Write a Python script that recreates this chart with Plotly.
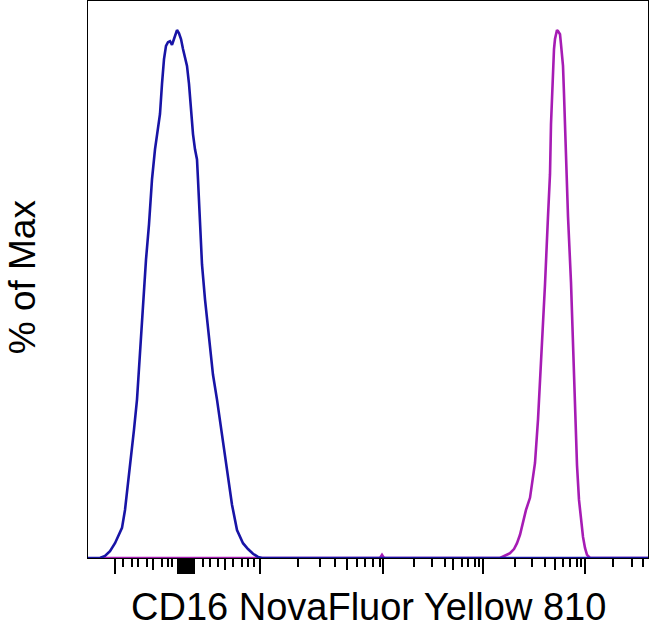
import plotly.graph_objects as go

# Display channels (biexponential display scale), 0..560 across the plot
blue_x = [0, 12, 17, 22, 27, 31, 34, 37, 40, 43, 46, 49, 52, 55, 58, 61, 64, 67, 70, 72,
          74, 76, 78, 80, 82, 84, 86, 88, 89, 91, 93, 95, 97, 99, 101, 103, 105, 107, 109,
          110, 112, 114, 117, 121, 125, 129, 134, 139, 144, 149, 155, 160, 165, 170, 174, 560]
blue_y = [0, 0, 0.4, 1.3, 2.8, 4.4, 5.7, 9.1, 13.9, 18.6, 24.3, 30.0, 39.5, 49.0, 56.5, 63.2,
          71.7, 77.4, 81.2, 84.1, 89.8, 94.5, 97.0, 97.7, 97.9, 97.2, 98.3, 99.6, 100, 99.4,
          98.3, 96.4, 94.9, 93.2, 89.8, 85.0, 80.3, 77.4, 75.5, 71.7, 62.2, 55.6, 49.0, 41.4,
          34.7, 30.0, 23.3, 16.7, 10.1, 5.3, 2.8, 1.7, 0.8, 0.2, 0, 0]

magenta_x = [12, 292, 294, 296, 412, 417, 422, 426, 429, 432, 435, 438, 442, 445, 447, 450,
             454, 457, 460, 462, 463, 464, 465, 466, 467, 468, 469, 470, 472, 473, 475, 476,
             477, 478, 480, 483, 485, 487, 489, 491, 493, 495, 497, 499, 502, 560]
magenta_y = [0, 0, 0.6, 0, 0, 0.4, 0.9, 1.7, 2.8, 4.4, 6.8, 9.1, 11.4, 15.2, 18.0, 26.2,
             39.5, 51.8, 64.7, 72.7, 82.2, 87.9, 93.2, 96.4, 98.3, 99.6, 100, 99.8, 99.2,
             97.3, 93.2, 87.9, 82.2, 74.6, 64.7, 52.2, 39.5, 26.8, 17.6, 11.0, 6.8, 4.0,
             1.9, 0.6, 0, 0]

# tick positions on the display scale (-10^3, 0, 10^3 ... 10^6)
major_ticks = [27, 98, 172, 295, 395, 497]
zero_ticks = [90, 91.5, 93, 94, 96, 97, 99, 100, 102, 103, 104.5, 106]
mid_ticks = [65, 137, 259, 365, 467]
minor_ticks = [35, 44, 50, 59, 74, 80, 84,
               115, 122, 130, 145, 154, 160, 166,
               210, 232, 247, 269, 277, 285, 292,
               326, 344, 357, 374, 380, 387, 391,
               427, 444, 457, 475, 482, 489, 493,
               525, 544, 555]

x_title = 'CD16 NovaFluor Yellow 810'
y_title = '% of Max'

x_range = [0, 560]
y_range = [0, 105.5]

fig = go.Figure()

# magenta first, blue drawn on top
fig.add_trace(go.Scatter(x=magenta_x, y=magenta_y, mode='lines',
                         line=dict(color='#a61cb4', width=2.6), showlegend=False))
fig.add_trace(go.Scatter(x=blue_x, y=blue_y, mode='lines',
                         line=dict(color='#1814a6', width=2.6), showlegend=False))
# empty trace so the overlay axis with the medium ticks gets drawn
fig.add_trace(go.Scatter(x=[], y=[], xaxis='x2', showlegend=False))

fig.update_layout(
    width=650, height=632,
    margin=dict(l=88, r=2, t=1, b=74),
    paper_bgcolor='white', plot_bgcolor='white',
    font=dict(family='Liberation Sans, Arial', color='black'),
    xaxis=dict(range=x_range, showgrid=False, zeroline=False, automargin=False,
               showline=True, linecolor='black', linewidth=1, mirror=True,
               tickmode='array', tickvals=major_ticks + zero_ticks,
               ticks='outside', ticklen=15, tickwidth=2, tickcolor='black',
               showticklabels=False,
               minor=dict(tickmode='array', tickvals=minor_ticks, ticks='outside',
                          ticklen=8, tickwidth=2, tickcolor='black', showgrid=False)),
    xaxis2=dict(range=x_range, overlaying='x', anchor='y', side='bottom',
                automargin=False, showgrid=False, zeroline=False, showline=False,
                tickmode='array', tickvals=mid_ticks, ticks='outside',
                ticklen=11, tickwidth=2, tickcolor='black', showticklabels=False),
    yaxis=dict(range=y_range, showgrid=False, zeroline=False, automargin=False,
               showline=True, linecolor='black', linewidth=1, mirror=True,
               ticks='', showticklabels=False),
    annotations=[
        dict(text=x_title, xref='paper', yref='paper', x=0.5, y=-0.13,
             xanchor='center', yanchor='bottom', showarrow=False,
             font=dict(size=38)),
        dict(text=y_title, xref='paper', yref='paper', x=-0.157, y=0.505,
             xanchor='left', yanchor='middle', textangle=-90, showarrow=False,
             font=dict(size=37)),
    ],
)

# drop the default page margin so the figure sits at the window's corner
fig.write_html("out.html", config={'displayModeBar': False},
               post_script="document.body.style.margin='0';")
